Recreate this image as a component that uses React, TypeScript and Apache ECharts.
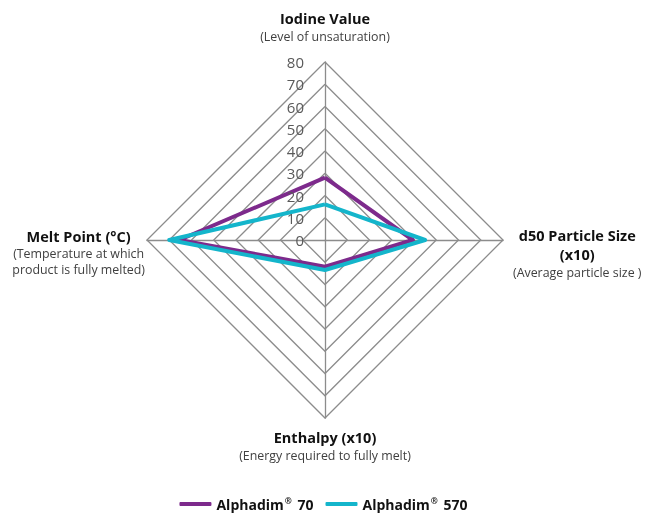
import React, { useEffect, useRef } from 'react';
import * as echarts from 'echarts';

const indicatorTitles = ['Iodine Value', 'Melt Point (°C)', 'Enthalpy (x10)', 'd50 Particle Size\n(x10)'];
const indicatorNotes = ['(Level of unsaturation)', '(Temperature at which\nproduct is fully melted)', '(Energy required to fully melt)', '(Average particle size )'];
const indicatorSides = ['T', 'L', 'B', 'R'];
const axisMin = 0;
const axisMax = 80;
const axisStep = 10;
const seriesNames = ['Alphadim® 70', 'Alphadim® 570'];
const alphadim70 = [28, 65.5, 12, 39.5];
const alphadim570 = [16, 70, 13.5, 45];
const seriesColors = ['#7d2a8c', '#14b5cb'];

const FONT = "'Open Sans', 'Noto Sans', sans-serif";

export default function App() {
  const ref = useRef<HTMLDivElement>(null);
  useEffect(() => {
    if (!ref.current) return;
    const chart = echarts.init(ref.current, null, { renderer: 'svg' });
    const title = (side: string) => ({ fontFamily: FONT, fontWeight: 'bold', fontSize: 14.5, lineHeight: 19, color: '#111', align: 'center', padding: side === 'R' ? [0, 0, 0, 8] : 0 });
    const note = (side: string) => ({ fontFamily: FONT, fontSize: 12.4, lineHeight: 16, color: '#404040', align: 'center', padding: side === 'R' ? [0, 0, 0, 8] : 0 });
    const rich: any = {
      g8: { fontSize: 1, lineHeight: 8 },
      g16: { fontSize: 1, lineHeight: 16 },
      g24: { fontSize: 1, lineHeight: 24 },
      g26: { fontSize: 1, lineHeight: 26 },
    };
    indicatorSides.forEach((s) => {
      rich['t' + s] = title(s);
      rich['s' + s] = note(s);
    });
    const option: any = {
      animation: false,
      color: seriesColors,
      legend: {
        data: seriesNames,
        top: 491,
        left: 'center',
        icon: 'roundRect',
        itemWidth: 32,
        itemHeight: 4,
        itemGap: 12,
        formatter: (n: string) => n.replace('®', '{r|®}'),
        textStyle: {
          fontFamily: FONT,
          fontSize: 14,
          lineHeight: 16,
          fontWeight: 'bold',
          color: '#111',
          rich: { r: { fontFamily: FONT, fontSize: 8.5, lineHeight: 16, fontWeight: 'bold', color: '#111', verticalAlign: 'top', padding: [0, 2, 0, 1] } },
        },
      },
      radar: {
        center: [325, 240],
        radius: 178,
        startAngle: 90,
        splitNumber: (axisMax - axisMin) / axisStep,
        shape: 'polygon',
        nameGap: 2,
        indicator: indicatorTitles.map((t) => ({ name: t, min: axisMin, max: axisMax })),
        axisName: {
          color: '#111',
          formatter: (name: string) => {
            const i = indicatorTitles.indexOf(name);
            const side = indicatorSides[i];
            const t = indicatorTitles[i].split('\n').map((l) => `{t${side}|${l}}`).join('\n');
            const s = indicatorNotes[i].split('\n').map((l) => `{s${side}|${l}}`).join('\n');
            let body = t + '\n' + s;
            if (side === 'T') body = body + '\n{g16| }';
            if (side === 'L') body = '{g24| }\n' + body;
            if (side === 'R') body = '{g26| }\n' + body;
            if (side === 'B') body = '{g8| }\n' + body;
            return body;
          },
          rich,
        },
        axisLine: { lineStyle: { color: '#8c8c8c', width: 1.3 } },
        splitLine: { lineStyle: { color: '#8c8c8c', width: 1.3 } },
        splitArea: { show: false },
        axisTick: { show: false },
        axisLabel: { show: false },
      },
      grid: { left: 325, top: 62, width: 20, height: 178, containLabel: false, outerBoundsMode: 'none' },
      xAxis: { type: 'value', show: false },
      yAxis: {
        type: 'value',
        min: axisMin,
        max: axisMax,
        interval: axisStep,
        z: 5,
        axisLine: { show: false },
        axisTick: { show: false },
        splitLine: { show: false },
        axisLabel: { margin: 21, color: '#595959', fontSize: 15, fontFamily: FONT },
      },
      series: [
        {
          type: 'radar',
          symbol: 'none',
          lineStyle: { width: 4 },
          data: [
            { name: seriesNames[0], value: alphadim70 },
            { name: seriesNames[1], value: alphadim570 },
          ],
        },
      ],
    };
    chart.setOption(option);
    return () => chart.dispose();
  }, []);
  return <div ref={ref} style={{ position: 'fixed', left: 0, top: 0, width: 647, height: 514 }} />;
}
